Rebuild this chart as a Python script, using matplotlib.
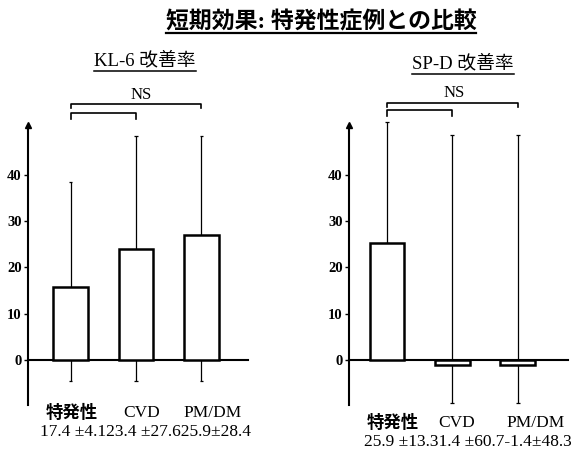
import matplotlib
matplotlib.use("Agg")
import matplotlib.pyplot as plt
from matplotlib.lines import Line2D
import numpy as np

plt.rcParams['font.family'] = ['Liberation Serif', 'Noto Sans CJK JP', 'DejaVu Sans']

# ---------------- data ----------------
categories = ["特発性", "CVD", "PM/DM"]
kl6_values = [15.8, 24.0, 27.0]
kl6_err_low = [-4.5, -4.5, -4.5]
kl6_err_high = [38.5, 48.4, 48.4]
kl6_stats = ["17.4 ±4.1", "23.4 ±27.6", "25.9±28.4"]

spd_values = [25.3, -1.1, -1.1]
spd_err_low = [25.3, -9.3, -9.3]
spd_err_high = [51.5, 48.6, 48.6]
spd_stats = ["25.9 ±13.3", "1.4 ±60.7", "-1.4±48.3"]

yticks = [0, 10, 20, 30, 40]
main_title = "短期効果: 特発性症例との比較"
kl6_title = "KL-6 改善率"
spd_title = "SP-D 改善率"
sig_label = "NS"

W, H = 587, 451
fig = plt.figure(figsize=(W / 100, H / 100), dpi=100)


def fx(px):
    return px / W


def fy(py):
    return 1 - py / H


def make_axes(left_px, right_px, top_px, bottom_px, xlim):
    ax = fig.add_axes([fx(left_px), fy(bottom_px), (right_px - left_px) / W,
                       (bottom_px - top_px) / H])
    ax.set_xlim(*xlim)
    ax.set_ylim(-9.73, 50.8)
    for s in ['top', 'right']:
        ax.spines[s].set_visible(False)
    ax.spines['left'].set_linewidth(1.5)
    ax.spines['bottom'].set_linewidth(1.5)
    ax.spines['bottom'].set_position(('data', 0))
    ax.set_xticks([])
    ax.set_yticks(yticks)
    ax.set_yticklabels([str(t) for t in yticks], fontsize=10.5, fontweight='bold')
    ax.tick_params(axis='y', direction='out', length=3, width=1, pad=1.5)
    ax.patch.set_alpha(0)
    # arrow head at the top of the y axis
    ax.plot([0], [1], marker='^', color='black', markersize=4.5,
            transform=ax.transAxes, clip_on=False)
    return ax


def draw_bars(ax, values, lo, hi):
    x = np.arange(len(values))
    vals = np.array(values)
    ax.vlines(x, lo, hi, color='black', lw=0.9, zorder=2, clip_on=False)
    ax.hlines(lo, x - 0.03, x + 0.03, color='black', lw=0.9, zorder=2, clip_on=False)
    ax.hlines(hi, x - 0.03, x + 0.03, color='black', lw=0.9, zorder=2, clip_on=False)
    ax.bar(x, vals, width=0.53, color='white', edgecolor='black',
           linewidth=1.8, zorder=3)


def bracket(ax, x0, x1, y, leg):
    ax.plot([x0, x0, x1, x1], [y - leg, y, y, y - leg], color='black',
            lw=1.2, clip_on=False)


# ---------------- left: KL-6 ----------------
ax1 = make_axes(28, 248, 125, 405, (-0.649, 2.71))
draw_bars(ax1, kl6_values, kl6_err_low, kl6_err_high)
bracket(ax1, 0, 2, 55.35, 0.9)
bracket(ax1, 0, 1, 53.4, 1.3)
ax1.text(1.08, 57.3, sig_label, ha='center', va='center', fontsize=12,
         clip_on=False)

# ---------------- right: SP-D ----------------
ax2 = make_axes(349, 568, 125, 405, (-0.58, 2.77))
draw_bars(ax2, spd_values, spd_err_low, spd_err_high)
bracket(ax2, 0, 2, 55.6, 0.9)
bracket(ax2, 0, 1, 54.05, 1.3)
ax2.text(1.03, 57.7, sig_label, ha='center', va='center', fontsize=12,
         clip_on=False)

# ---------------- labels ----------------
left_label_x = [72, 142, 213]
right_label_x = [392.5, 457, 536]
for lab, px in zip(categories, left_label_x):
    fig.text(fx(px), fy(413), lab, ha='center', va='center', fontsize=12.5,
             fontweight='bold' if lab == "特発性" else 'normal')
for lab, px in zip(categories, right_label_x):
    fig.text(fx(px), fy(423), lab, ha='center', va='center', fontsize=12.5,
             fontweight='bold' if lab == "特発性" else 'normal')

fig.text(fx(146), fy(432), "".join(kl6_stats), ha='center', va='center',
         fontsize=12.5)
fig.text(fx(468), fy(442), "".join(spd_stats), ha='center', va='center',
         fontsize=12.5)

# ---------------- titles (underlined) ----------------
titles = [
    (main_title, 321, 22, 16.5, 'bold', 33, 1.6),
    (kl6_title, 145, 60, 13.5, 'normal', 71, 1.1),
    (spd_title, 463, 63, 13.5, 'normal', 74, 1.1),
]
title_texts = []
for txt, px, py, fs, fw, uy, lw in titles:
    t = fig.text(fx(px), fy(py), txt, ha='center', va='center', fontsize=fs,
                 fontweight=fw)
    title_texts.append((t, uy, lw))

fig.canvas.draw()
renderer = fig.canvas.get_renderer()
for t, uy, lw in title_texts:
    bb = t.get_window_extent(renderer)
    fig.add_artist(Line2D([bb.x0 / W, bb.x1 / W], [fy(uy), fy(uy)],
                          color='black', lw=lw, transform=fig.transFigure))

fig.savefig("out.png", dpi=100)
